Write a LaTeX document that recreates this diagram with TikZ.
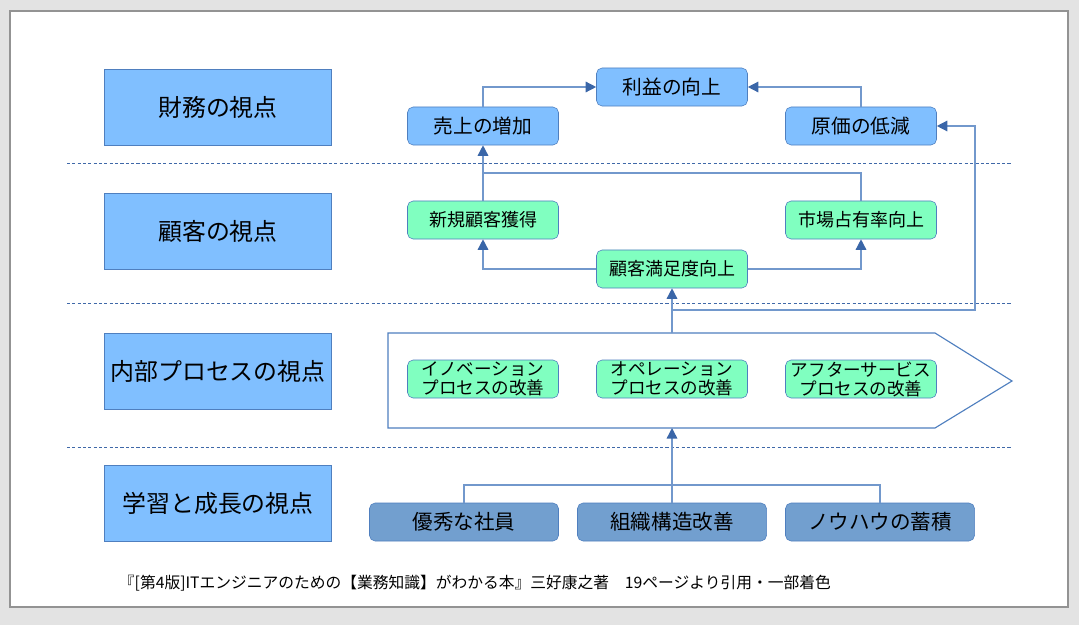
\documentclass[tikz,border=0pt]{standalone}
\usepackage{fontspec}
\setmainfont{Noto Sans CJK JP}
\usetikzlibrary{arrows.meta, calc}

\definecolor{viewblue}{HTML}{80BFFF}
\definecolor{goalgreen}{HTML}{80FFC0}
\definecolor{baseblue}{HTML}{729FCF}
\definecolor{edgeblue}{HTML}{4F7FBF}
\definecolor{linkblue}{HTML}{7298CC}
\definecolor{tipblue}{HTML}{3A66A8}
\definecolor{sepblue}{HTML}{3F68A8}

\tikzset{
  view/.style={draw=edgeblue, fill=viewblue, inner sep=0pt,
    minimum width=5.675cm, minimum height=1.9cm, font=\fontsize{17}{20}\selectfont},
  goal/.style={draw=edgeblue, fill=viewblue, rounded corners=4pt, inner sep=0pt,
    minimum width=3.775cm, minimum height=0.95cm, font=\fontsize{14}{16}\selectfont},
  cust/.style={goal, fill=goalgreen, font=\fontsize{12.8}{14}\selectfont},
  proc/.style={cust, align=center, font=\fontsize{12.5}{13.5}\selectfont},
  base/.style={goal, fill=baseblue, minimum width=4.725cm, font=\fontsize{14.6}{16}\selectfont},
  link/.style={draw=linkblue, line width=1pt, -{Triangle[length=7.5pt, width=7.5pt, fill=tipblue, color=tipblue]}},
  plain/.style={draw=linkblue, line width=1pt},
  sep/.style={draw=sepblue, line width=0.7pt, dash pattern=on 2.2pt off 1.6pt}
}

\begin{document}
\begin{tikzpicture}[x=0.025cm, y=-0.025cm]
    \useasboundingbox (0,0) rectangle (1079,625);
    \fill[gray!22] (0,0) rectangle (1079,625);
    \draw[draw=gray!85, line width=1.5pt, fill=white] (10,11) rectangle (1068,607);

    % perspectives
    \node[view] (fin) at (218,107) {財務の視点};
    \node[view] (cus) at (218,231) {顧客の視点};
    \node[view] (inp) at (218,371) {内部プロセスの視点};
    \node[view] (lrn) at (218,503) {学習と成長の視点};

    \draw[sep] (67,163) -- (1012,163);
    \draw[sep] (67,303) -- (1012,303);
    \draw[sep] (67,447) -- (1012,447);

    % finance
    \node[goal] (profit) at (672,87) {利益の向上};
    \node[goal] (sales) at (483,126) {売上の増加};
    \node[goal] (cost) at (861,126) {原価の低減};

    % customer
    \node[cust] (newcust) at (483,220) {新規顧客獲得};
    \node[cust] (share) at (861,220) {市場占有率向上};
    \node[cust] (satisf) at (672,269) {顧客満足度向上};

    % internal process
    \draw[draw=edgeblue, line width=0.8pt, fill=white]
        (388,333) -- (935,333) -- (1012,381) -- (935,428) -- (388,428) -- cycle;
    \coordinate (chaintop) at (672,333);
    \coordinate (chainbottom) at (672,428);
    \node[proc] (innov) at (483,379) {イノベーション\\プロセスの改善};
    \node[proc] (oper) at (672,379) {オペレーション\\プロセスの改善};
    \node[proc] (after) at (861,379) {アフターサービス\\プロセスの改善};

    % learning
    \node[base] (staff) at (464,522) {優秀な社員};
    \node[base] (org) at (672,522) {組織構造改善};
    \node[base] (knowhow) at (880,522) {ノウハウの蓄積};

    \draw[link] (sales.north) |- (profit.west);
    \draw[link] (cost.north) |- (profit.east);
    \draw[link] (newcust.north) -- (sales.south);
    \draw[plain] (share.north) |- ($(sales.south)!0.5!(newcust.north)$);
    \draw[link] (satisf.west) -| (newcust.south);
    \draw[link] (satisf.east) -| (share.south);
    \draw[link] (chaintop) -- (satisf.south);

    \coordinate (fork) at (672,310);
    \coordinate (bend) at (975,310);
    \draw[link] (fork) -- (bend) |- (cost.east);

    \coordinate (gather) at (672,485);
    \draw[plain] (staff.north) |- (gather) -| (knowhow.north);
    \draw[link] (org.north) -- (chainbottom);

    \node[anchor=west, font=\fontsize{11.2}{13}\selectfont] (cite) at (114,583)
        {『[第4版]ITエンジニアのための【業務知識】がわかる本』三好康之著　19ページより引用・一部着色};
\end{tikzpicture}
\end{document}
